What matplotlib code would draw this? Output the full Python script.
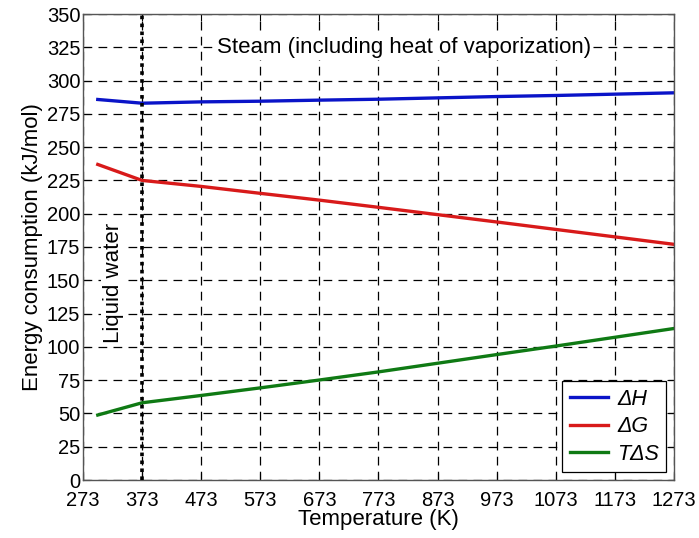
import matplotlib
matplotlib.use("Agg")
import matplotlib.pyplot as plt

plt.rcParams['font.family'] = ['Liberation Sans', 'DejaVu Sans']

temps = [298, 373, 473, 573, 673, 773, 873, 973, 1073, 1173, 1273]
dH = [285.8, 283.0, 284.0, 284.5, 285.3, 286.0, 287.0, 288.0, 288.8, 289.8, 290.8]
dG = [237.0, 225.0, 220.5, 215.3, 210.2, 204.8, 199.3, 193.8, 188.2, 182.6, 177.0]
TdS = [48.8, 58.0, 63.5, 69.2, 75.1, 81.2, 87.7, 94.2, 100.6, 107.2, 113.8]
labels = ['ΔH', 'ΔG', 'TΔS']
xticks = list(range(273, 1274, 100))
yticks = list(range(0, 351, 25))
boil_T = 373

fig = plt.figure(figsize=(6.99, 5.38), dpi=100)
ax = fig.add_axes([83/699, 1 - 480/538, 591/699, 466/538])

l1, = ax.plot(temps, dH, color='#0a14c8', lw=2.4)
l2, = ax.plot(temps, dG, color='#d81a1a', lw=2.4)
l3, = ax.plot(temps, TdS, color='#0f7a14', lw=2.4)
ax.axvline(boil_T, color='black', lw=2.6, ls=(0, (1, 1.2)), zorder=3)

ax.set_xlim(273, 1273)
ax.set_ylim(0, 350)
ax.set_xticks(xticks)
ax.set_yticks(yticks)
ax.grid(True, color='black', ls=(0, (7, 5)), lw=0.9)
ax.tick_params(direction='in', top=True, right=True, labelsize=14.5, length=5)
ax.tick_params(axis='x', pad=8)
ax.tick_params(axis='y', pad=2)
for s in ax.spines.values():
    s.set_color('#555555')
    s.set_linewidth(1.0)

ax.set_xlabel('Temperature (K)', fontsize=16, labelpad=-1)
ax.set_ylabel('Energy consumption (kJ/mol)', fontsize=16, labelpad=3)

ax.text(500, 325, 'Steam (including heat of vaporization)', fontsize=16,
        va='center', ha='left',
        bbox=dict(facecolor='white', edgecolor='none', pad=1.5), zorder=4)
ax.text(325, 148, 'Liquid water', fontsize=16, rotation=90, va='center', ha='center',
        bbox=dict(facecolor='white', edgecolor='none', pad=1.5), zorder=4)

leg = ax.legend([l1, l2, l3], labels, loc='lower right', fancybox=False,
                edgecolor='black', framealpha=1, prop={'style': 'italic', 'size': 15.5},
                handlelength=1.8, borderaxespad=0.35, labelspacing=0.3,
                handletextpad=0.4, borderpad=0.35)
leg.get_frame().set_linewidth(0.9)

fig.savefig('out.png', dpi=100)
